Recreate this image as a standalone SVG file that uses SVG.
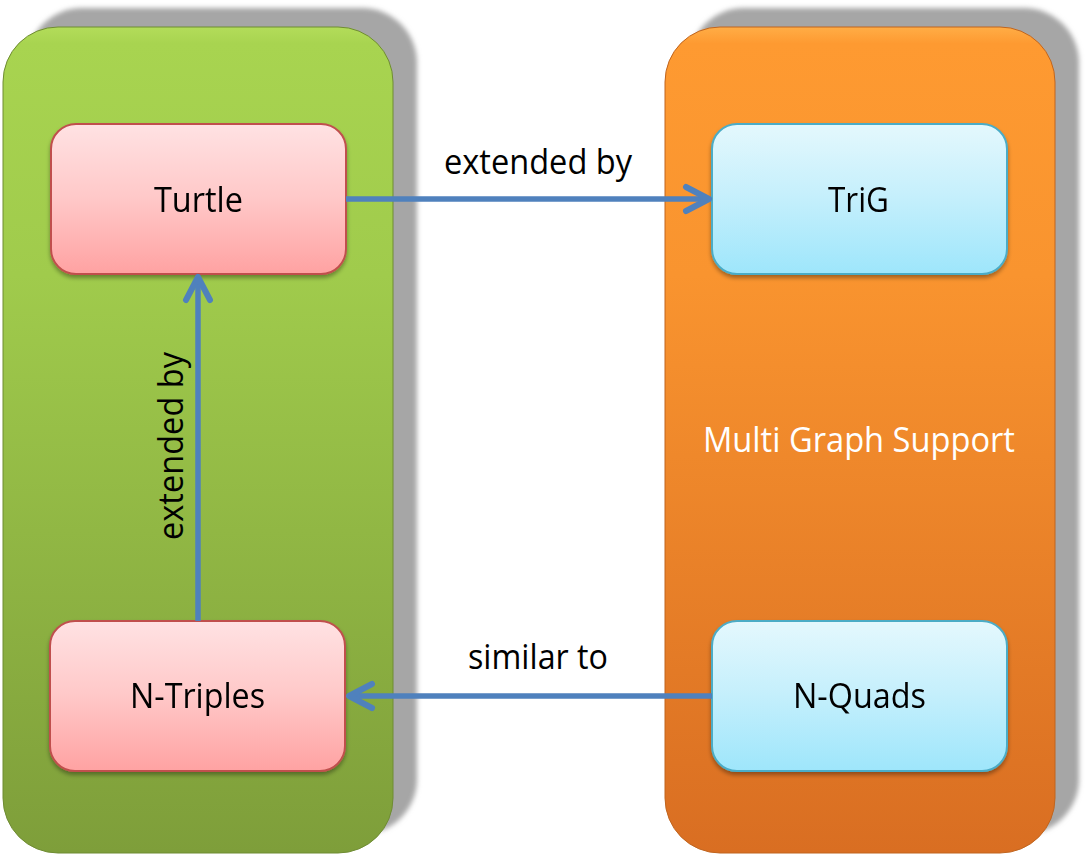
<svg xmlns="http://www.w3.org/2000/svg" width="1088" height="862" viewBox="0 0 1088 862">
<defs>
<linearGradient id="gGreen" x1="0" y1="0" x2="0" y2="1">
<stop offset="0" stop-color="#b3dc5a"/>
<stop offset="0.02" stop-color="#a8d450"/>
<stop offset="0.3" stop-color="#a0cb4c"/>
<stop offset="1" stop-color="#7e9e3a"/>
</linearGradient>
<linearGradient id="gOrange" x1="0" y1="0" x2="0" y2="1">
<stop offset="0" stop-color="#ffad46"/>
<stop offset="0.02" stop-color="#fe9a31"/>
<stop offset="0.3" stop-color="#f9942f"/>
<stop offset="1" stop-color="#d96e22"/>
</linearGradient>
<linearGradient id="gPink" x1="0" y1="0" x2="0" y2="1">
<stop offset="0" stop-color="#ffe2e3"/>
<stop offset="0.5" stop-color="#ffc8c8"/>
<stop offset="1" stop-color="#ffa2a2"/>
</linearGradient>
<linearGradient id="gBlue" x1="0" y1="0" x2="0" y2="1">
<stop offset="0" stop-color="#e4f8fd"/>
<stop offset="0.5" stop-color="#c4effc"/>
<stop offset="1" stop-color="#9ee6fb"/>
</linearGradient>
<filter id="fShadow" x="-10%" y="-10%" width="120%" height="120%">
<feGaussianBlur stdDeviation="2.5"/>
</filter>
<filter id="fNode" x="-10%" y="-10%" width="120%" height="130%">
<feGaussianBlur in="SourceAlpha" stdDeviation="2"/>
<feOffset dx="0" dy="3"/>
<feComponentTransfer><feFuncA type="linear" slope="0.35"/></feComponentTransfer>
<feMerge><feMergeNode/><feMergeNode in="SourceGraphic"/></feMerge>
</filter>
<marker id="arrow" markerUnits="userSpaceOnUse" markerWidth="40" markerHeight="40" viewBox="-30 -20 40 40" refX="0" refY="0" orient="auto" overflow="visible">
<path d="M -23 -12 L 0 0 L -23 12" fill="none" stroke="#4f81bd" stroke-width="6" stroke-linecap="round" stroke-linejoin="round"/>
</marker>
</defs>
<style>
.lbl { font-family: "Open Sans", "Noto Sans", "DejaVu Sans", sans-serif; font-size: 34px; fill: #000; }
.white { fill: #ffffff; }
.node-pink { fill: url(#gPink); stroke: #c0504d; stroke-width: 2; }
.node-blue { fill: url(#gBlue); stroke: #4bacc6; stroke-width: 2; }
.conn { fill: none; stroke: #4f81bd; stroke-width: 5.5; marker-end: url(#arrow); }
.shadow { fill: #a6a6a6; }
</style>
<rect width="1088" height="862" fill="#ffffff"/>

<g id="panel-left">
<rect class="shadow" x="27" y="8" width="390" height="826" rx="55" filter="url(#fShadow)"/>
<rect x="3" y="27" width="390" height="826" rx="55" fill="url(#gGreen)" stroke="#6f8c33" stroke-width="1"/>
</g>
<g id="panel-right">
<rect class="shadow" x="689" y="8" width="390" height="826" rx="55" filter="url(#fShadow)"/>
<rect x="665" y="27" width="390" height="826" rx="55" fill="url(#gOrange)" stroke="#c0651f" stroke-width="1"/>
<text class="lbl white" x="859" y="452" text-anchor="middle" textLength="312" lengthAdjust="spacingAndGlyphs">Multi Graph Support</text>
</g>

<g id="node-turtle" filter="url(#fNode)">
<rect class="node-pink" x="51" y="124" width="295" height="150" rx="25"/>
<text class="lbl" x="198.5" y="212" text-anchor="middle" textLength="89" lengthAdjust="spacingAndGlyphs">Turtle</text>
</g>
<g id="node-ntriples" filter="url(#fNode)">
<rect class="node-pink" x="50" y="621" width="295" height="150" rx="25"/>
<text class="lbl" x="197.5" y="708" text-anchor="middle" textLength="135" lengthAdjust="spacingAndGlyphs">N-Triples</text>
</g>
<g id="node-trig" filter="url(#fNode)">
<rect class="node-blue" x="712" y="124" width="295" height="150" rx="25"/>
<text class="lbl" x="858.5" y="212" text-anchor="middle" textLength="61" lengthAdjust="spacingAndGlyphs">TriG</text>
</g>
<g id="node-nquads" filter="url(#fNode)">
<rect class="node-blue" x="712" y="621" width="295" height="150" rx="25"/>
<text class="lbl" x="859.5" y="708" text-anchor="middle" textLength="133" lengthAdjust="spacingAndGlyphs">N-Quads</text>
</g>

<g id="connectors">
<line class="conn" x1="346" y1="199" x2="709" y2="199"/>
<line class="conn" x1="712" y1="696" x2="349" y2="696"/>
<line class="conn" x1="198" y1="621" x2="198" y2="277"/>
<text class="lbl" x="538" y="174" text-anchor="middle" textLength="188" lengthAdjust="spacingAndGlyphs">extended by</text>
<text class="lbl" x="538" y="669" text-anchor="middle" textLength="140" lengthAdjust="spacingAndGlyphs">similar to</text>
<text class="lbl" transform="translate(183,446) rotate(-90)" x="0" y="0" text-anchor="middle" textLength="188" lengthAdjust="spacingAndGlyphs">extended by</text>
</g>
</svg>
